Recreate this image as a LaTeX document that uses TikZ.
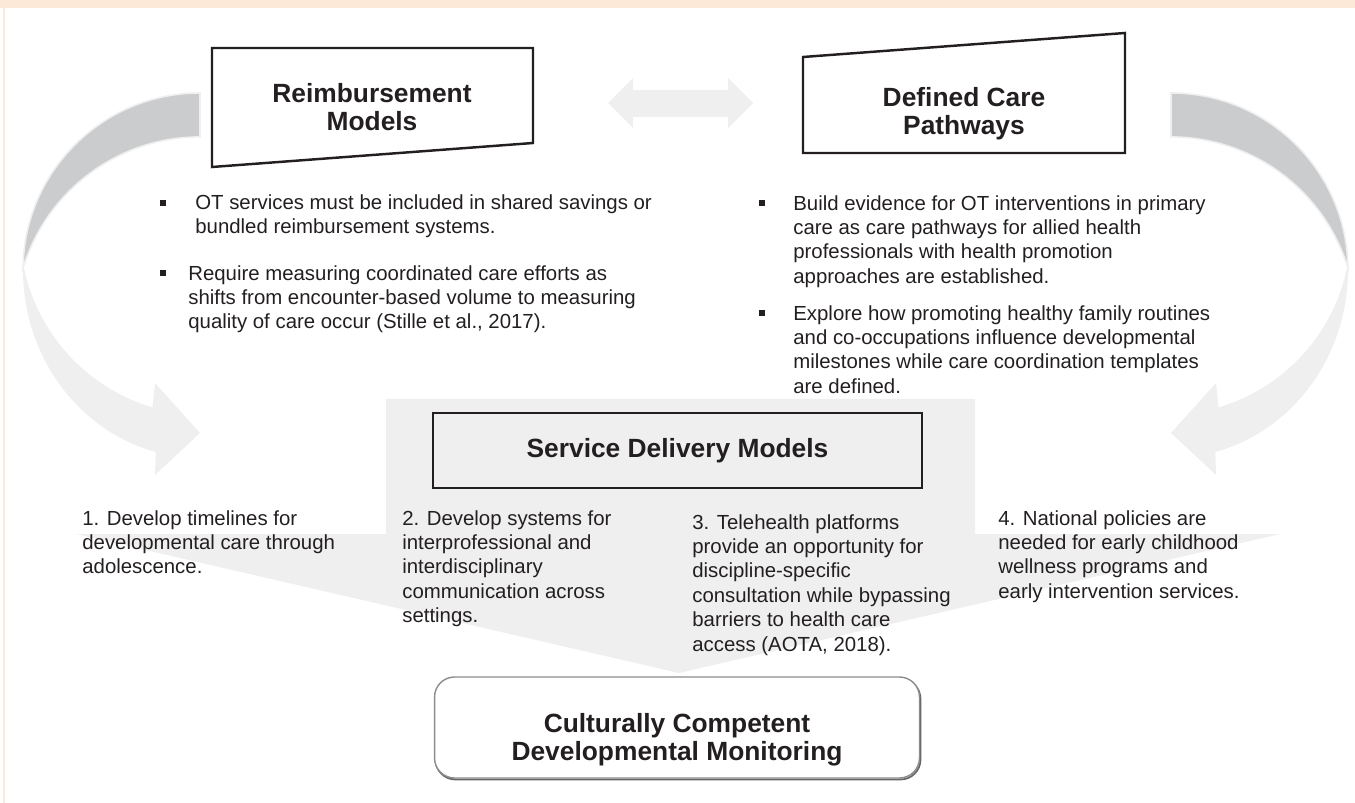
\documentclass[tikz,border=0pt]{standalone}
\usepackage{fontspec}
\setmainfont{Liberation Sans}
\usepackage{xcolor}
\usetikzlibrary{positioning}

\definecolor{peach}{HTML}{FCE9D8}
\definecolor{lightarrow}{HTML}{EFEFEF}
\definecolor{darkarrow}{HTML}{CBCCCE}
\definecolor{inkline}{HTML}{231F20}
\definecolor{softframe}{HTML}{8C8C8C}

\tikzset{
  modeltitle/.style={font=\fontsize{15}{16}\selectfont\bfseries, align=center, text=inkline, inner sep=0pt},
  bodytext/.style={font=\fontsize{11.6}{13.9}\selectfont, align=left, text=inkline, inner sep=0pt, anchor=north west},
  sqbullet/.style={fill=inkline, minimum size=0.12cm, inner sep=0pt},
  modelbox/.style={draw=inkline, line width=1.4pt},
  arrowface/.style={fill=lightarrow},
  arrowback/.style={fill=darkarrow, draw=lightarrow, line width=0.9pt},
}

\begin{document}
\begin{tikzpicture}[x=0.02cm, y=-0.02cm]
  \useasboundingbox (0,0) rectangle (1355,803);
  % page frame
  \fill[peach] (0,0) rectangle (1355,8);
  \fill[peach] (3,8) rectangle (4.5,803);

  % curved arrows, the right one is the mirror of the left one
  \foreach \flip/\shift in {1/0,-1/1371}{
    \begin{scope}[shift={(\shift,0)}, xscale=\flip]
      \fill[arrowface] (23,268) arc[start angle=180.6, end angle=104.5, x radius=177, y radius=188]
        -- (155,475) -- (200,433) -- (155,383) -- (152.5,407.4)
        arc[start angle=106.5, end angle=168.2, radius=185] -- cycle;
      \filldraw[arrowback] (200,93) arc[start angle=270, end angle=180.6, radius=177]
        arc[start angle=196.9, end angle=270, radius=185] -- cycle;
    \end{scope}
  }

  % service delivery arrow
  \fill[lightarrow] (386,399) -- (975,399) -- (975,534) -- (1280,534) -- (679,673)
    -- (76,534) -- (386,534) -- cycle;

  % double arrow between the two top models
  \fill[lightarrow] (608,103) -- (633,78) -- (633,90) -- (728,90) -- (728,78) -- (753,103)
    -- (728,128) -- (728,117) -- (633,117) -- (633,128) -- cycle;

  % top models
  \draw[modelbox] (212,48) -- (533,48) -- (533,143) -- (212,167) -- cycle;
  \node[modeltitle] (reimb) at (372,107) {Reimbursement\\Models};
  \draw[modelbox] (803,57) -- (1125,33) -- (1125,153) -- (803,153) -- cycle;
  \node[modeltitle] (pathways) at (964,114) {Defined Care\\Pathways};

  % bullets under the models
  \foreach \x/\y/\name in {163/203/lb1, 163/273/lb2, 762/203/rb1, 762/313/rb2}{
    \node[sqbullet] (\name) at (\x,\y) {};
  }
  \node[bodytext] (ltxt1) at (195,194) {OT services must be included in shared savings or\\bundled reimbursement systems.};
  \node[bodytext] (ltxt2) at (188,265) {Require measuring coordinated care efforts as\\shifts from encounter-based volume to measuring\\quality of care occur (Stille et al., 2017).};
  \node[bodytext] (rtxt1) at (793,195) {Build evidence for OT interventions in primary\\care as care pathways for allied health\\professionals with health promotion\\approaches are established.};
  \node[bodytext] (rtxt2) at (793,305) {Explore how promoting healthy family routines\\and co-occupations influence developmental\\milestones while care coordination templates\\are defined.};

  % service delivery
  \node[modelbox, modeltitle, minimum width=9.78cm, minimum height=1.5cm] (service) at (677.5,450.5) {Service Delivery Models};
  \node[bodytext] (step1) at (82,510) {1. Develop timelines for\\developmental care through\\adolescence.};
  \node[bodytext] (step2) at (402,510) {2. Develop systems for\\interprofessional and\\interdisciplinary\\communication across\\settings.};
  \node[bodytext] (step3) at (692,514) {3. Telehealth platforms\\provide an opportunity for\\discipline-specific\\consultation while bypassing\\barriers to health care\\access (AOTA, 2018).};
  \node[bodytext] (step4) at (998,510) {4. National policies are\\needed for early childhood\\wellness programs and\\early intervention services.};

  % outcome
  \draw[gray!80!black, line width=1pt, rounded corners=0.4cm] (435.5,679) rectangle (920.5,779.5);
  \node[draw=softframe, fill=white, line width=0.8pt, rounded corners=0.4cm, minimum width=9.7cm, minimum height=2.02cm] (devbox) at (677,727.5) {};
  \node[modeltitle] (devmon) at (677,740) {Culturally Competent\\Developmental Monitoring};
\end{tikzpicture}
\end{document}
